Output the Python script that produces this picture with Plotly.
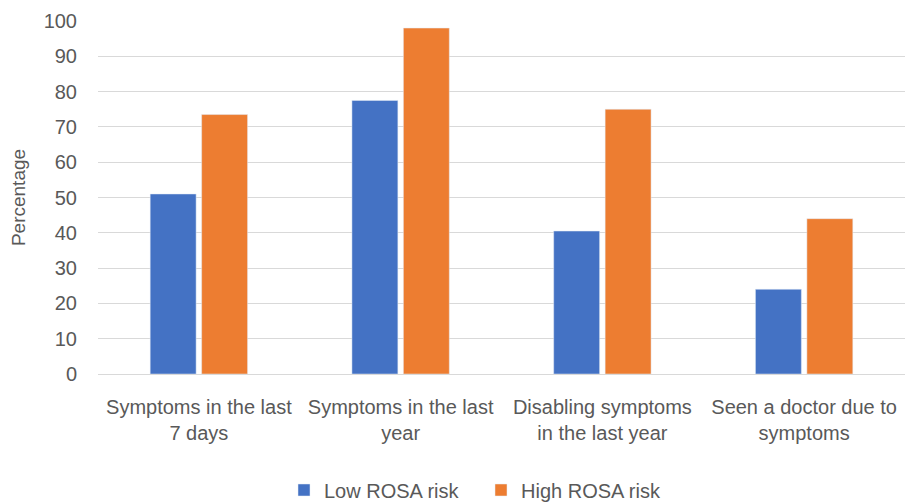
import plotly.graph_objects as go

categories = ["Symptoms in the last<br>7 days", "Symptoms in the last<br>year",
              "Disabling symptoms<br>in the last year", "Seen a doctor due to<br>symptoms"]
low_risk = [51, 77.5, 40.5, 24]
high_risk = [73.5, 98, 75, 44]
y_ticks = list(range(0, 101, 10))

font_family = "Liberation Sans, Arial, sans-serif"
text_color = "#595959"

# page body has an 8px default margin, so the figure is drawn from (8, 8)
W, H = 906, 495

fig = go.Figure()
fig.add_trace(go.Bar(name="Low ROSA risk", x=categories, y=low_risk, marker_color="#4472C4"))
fig.add_trace(go.Bar(name="High ROSA risk", x=categories, y=high_risk, marker_color="#ED7D31"))

fig.update_layout(
    width=W, height=H,
    margin=dict(l=90, r=9, t=13, b=129, autoexpand=False),
    paper_bgcolor="white", plot_bgcolor="white",
    barmode="group", bargap=0.49, bargroupgap=0.107,
    font=dict(family=font_family, size=20, color=text_color),
    legend=dict(orientation="h", xref="container", yref="container",
                x=473 / W, xanchor="center", y=1 - 482 / H, yanchor="middle",
                font=dict(size=20, color=text_color), itemwidth=30,
                entrywidth=152, entrywidthmode="pixels"),
    xaxis=dict(showline=False, ticks="", tickfont=dict(size=20), automargin=False,
               ticklabelstandoff=19),
    yaxis=dict(range=[0, 100], tickvals=y_ticks, showgrid=True, gridcolor="#d9d9d9",
               gridwidth=1, zeroline=True, zerolinecolor="#d9d9d9", zerolinewidth=1,
               tickfont=dict(size=20), ticklabelstandoff=20, automargin=False,
               title=dict(text="Percentage", font=dict(size=19), standoff=14)),
)

fig.write_html("out.html")
